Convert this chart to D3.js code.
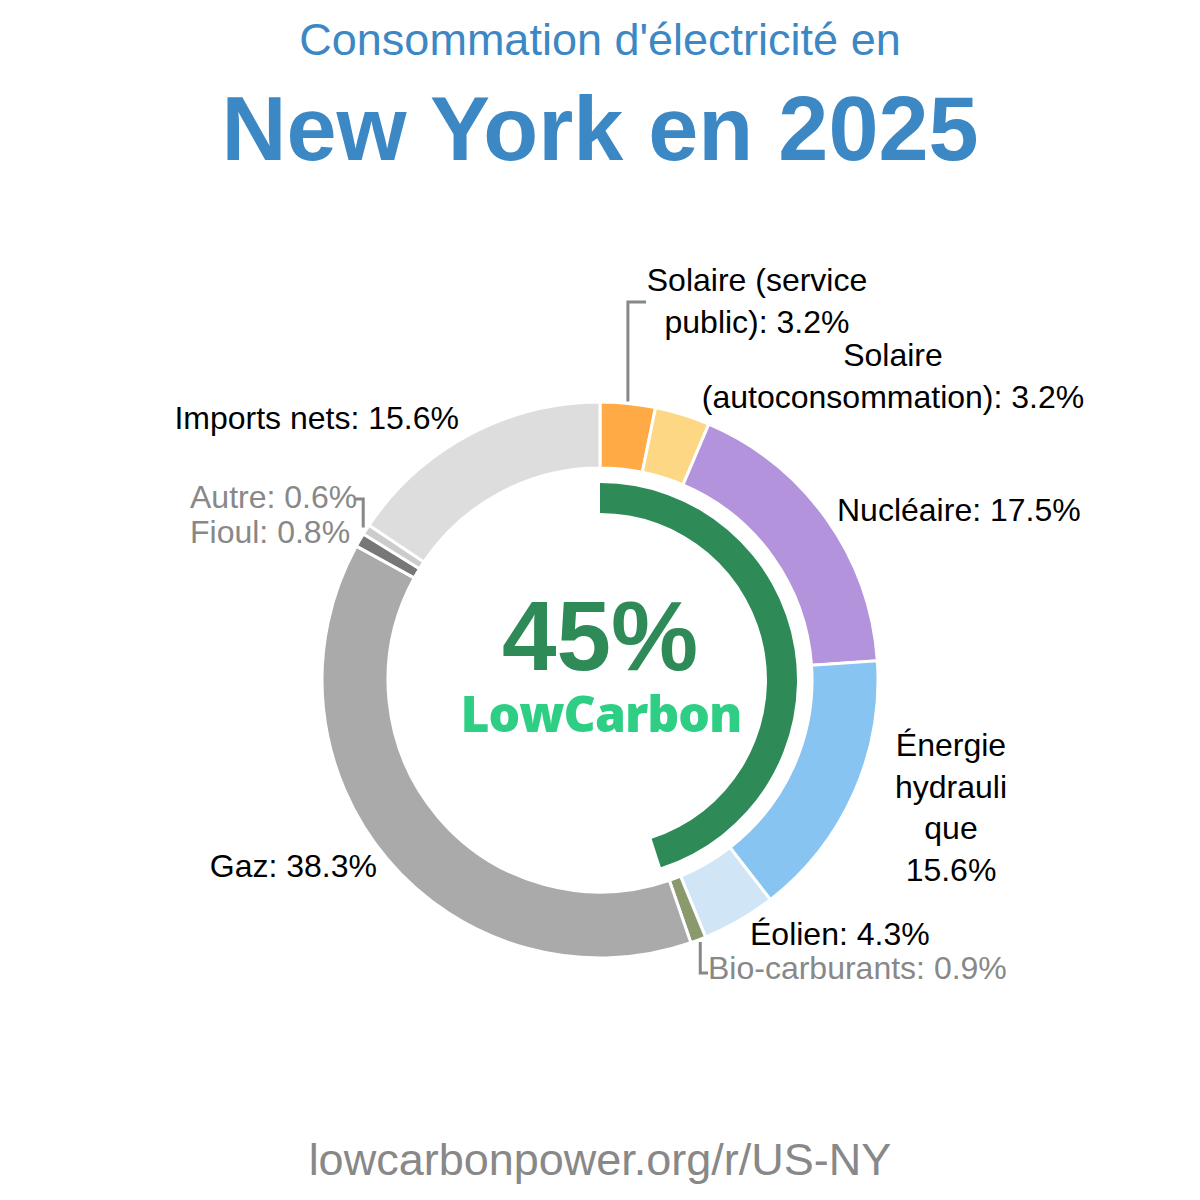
<!DOCTYPE html>
<html>
<head>
<meta charset="utf-8">
<script src="https://cdn.jsdelivr.net/npm/d3@7"></script>
<style>
  body { margin: 0; background: #fff; }
  svg { font-family: "Liberation Sans", Arial, sans-serif; }
</style>
</head>
<body>
<svg width="1200" height="1200"></svg>
<script>
// sources, clockwise from 12 o'clock
var categories = ["Solaire (service public)", "Solaire (autoconsommation)", "Nucléaire",
    "Énergie hydraulique", "Éolien", "Bio-carburants", "Gaz", "Fioul", "Autre", "Imports nets"];
var shares = [3.2, 3.2, 17.5, 15.6, 4.3, 0.9, 38.3, 0.8, 0.6, 15.6];
var colors = ["#ffaa44", "#fdd784", "#b393dc", "#88c4f2", "#d0e6f7", "#8a9a6c",
    "#aaaaaa", "#777777", "#cccccc", "#dddddd"];
var labelLines = [
    ["Solaire (service", "public): 3.2%"],
    ["Solaire", "(autoconsommation): 3.2%"],
    ["Nucléaire: 17.5%"],
    ["Énergie", "hydrauli", "que", "15.6%"],
    ["Éolien: 4.3%"],
    ["Bio-carburants: 0.9%"],
    ["Gaz: 38.3%"],
    ["Fioul: 0.8%"],
    ["Autre: 0.6%"],
    ["Imports nets: 15.6%"]
];
var lowCarbonShare = 45;

var svg = d3.select("svg"),
    cx = 600, cy = 680,
    outerR = 278, innerR = 212;

// label placement, relative to the donut centre
var labelPos = [
    {dx: 157, dy: -389, anchor: "middle", color: "#000"},
    {dx: 293, dy: -314, anchor: "middle", color: "#000"},
    {dx: 237, dy: -159, anchor: "start", color: "#000"},
    {dx: 351, dy: 76, anchor: "middle", color: "#000"},
    {dx: 150, dy: 265, anchor: "start", color: "#000"},
    {dx: 108, dy: 299, anchor: "start", color: "#888"},
    {dx: -223, dy: 197, anchor: "end", color: "#000"},
    {dx: -410, dy: -137, anchor: "start", color: "#888"},
    {dx: -410, dy: -172, anchor: "start", color: "#888"},
    {dx: -141, dy: -251, anchor: "end", color: "#000"}
];

svg.append("text")
    .attr("x", 600).attr("y", 55)
    .attr("text-anchor", "middle")
    .style("font-size", "45px")
    .style("fill", "#3c88c4")
    .text("Consommation d'électricité en");

svg.append("text")
    .attr("x", 600).attr("y", 160)
    .attr("text-anchor", "middle")
    .style("font-size", "90px")
    .style("font-weight", "bold")
    .style("fill", "#3c88c4")
    .text("New York en 2025");

svg.append("text")
    .attr("x", 600).attr("y", 1175)
    .attr("text-anchor", "middle")
    .style("font-size", "45px")
    .style("fill", "#888")
    .text("lowcarbonpower.org/r/US-NY");

var g = svg.append("g").attr("transform", "translate(" + cx + "," + cy + ")");

var pie = d3.pie().sort(null).value(function(d) { return d; });
var arcs = pie(shares);

var arc = d3.arc().innerRadius(innerR).outerRadius(outerR);

g.selectAll("path.slice")
    .data(arcs)
    .enter().append("path")
    .attr("class", "slice")
    .attr("d", arc)
    .style("fill", function(d, i) { return colors[i]; })
    .style("stroke", "#fff")
    .style("stroke-width", 3);

// low-carbon ring
var lowArc = d3.arc().innerRadius(167).outerRadius(197)
    .startAngle(0)
    .endAngle(2 * Math.PI * lowCarbonShare / 100);
g.append("path").attr("d", lowArc()).style("fill", "#2e8b57");

g.append("text")
    .attr("x", 0).attr("y", -10)
    .attr("text-anchor", "middle")
    .style("font-size", "98px")
    .style("font-weight", "bold")
    .style("fill", "#2e8b57")
    .text(lowCarbonShare + "%");

g.append("text")
    .attr("x", 1).attr("y", 52)
    .attr("text-anchor", "middle")
    .attr("textLength", 281)
    .attr("lengthAdjust", "spacingAndGlyphs")
    .style("font-family", "'Open Sans', sans-serif")
    .style("font-size", "50px")
    .style("font-weight", "800")
    .style("letter-spacing", "-1px")
    .style("fill", "#2ecf84")
    .text("LowCarbon");

// labels
var lineH = 41.5;
arcs.forEach(function(d, i) {
    var p = labelPos[i];
    var t = g.append("text")
        .attr("text-anchor", p.anchor)
        .style("font-size", "32px")
        .style("fill", p.color);
    labelLines[i].forEach(function(line, k) {
        t.append("tspan")
            .attr("x", p.dx)
            .attr("y", p.dy + k * lineH)
            .text(line);
    });
});

// leader lines from the slice midpoint on the outer edge
function edgePoint(d) {
    var a = (d.startAngle + d.endAngle) / 2;
    return [outerR * Math.sin(a), -outerR * Math.cos(a)];
}
var leader = d3.line();
var p0 = edgePoint(arcs[0]),
    p5 = edgePoint(arcs[5]),
    p8 = edgePoint(arcs[8]);
var leaders = [
    [[p0[0], p0[1] - 2], [p0[0], -378], [46, -378]],
    [[p5[0] + 2, p5[1] + 2], [p5[0] + 2, 293], [108, 293]],
    [[p8[0] - 3, p8[1] - 2], [p8[0] - 3, -181], [-245, -181]]
];

g.selectAll("path.leader")
    .data(leaders)
    .enter().append("path")
    .attr("class", "leader")
    .attr("d", leader)
    .style("fill", "none")
    .style("stroke", "#888")
    .style("stroke-width", 3);
</script>
</body>
</html>
